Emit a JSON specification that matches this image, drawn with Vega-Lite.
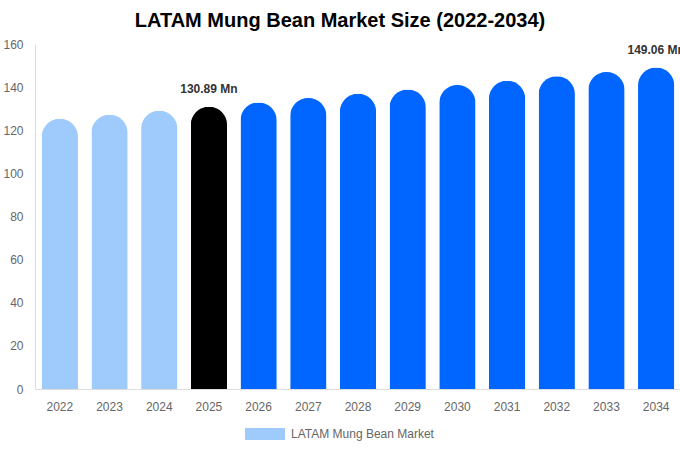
{
  "$schema": "https://vega.github.io/schema/vega-lite/v6.json",
  "width": 646,
  "height": 345,
  "autosize": {"type": "none"},
  "padding": {"left": 35, "top": 44, "right": 0, "bottom": 61},
  "config": {"font": "Liberation Sans", "view": {"stroke": null}},
  "title": {
    "text": "LATAM Mung Bean Market Size (2022-2034)",
    "fontSize": 20,
    "fontWeight": "bold",
    "color": "#000000",
    "anchor": "middle",
    "frame": "group",
    "dx": -18,
    "offset": 7
  },
  "data": {
    "values": [
      {"year": "2022", "value": 125.3, "phase": "Historical"},
      {"year": "2023", "value": 127.2, "phase": "Historical"},
      {"year": "2024", "value": 129.0, "phase": "Historical"},
      {"year": "2025", "value": 130.89, "phase": "Base", "label": "130.89 Mn"},
      {"year": "2026", "value": 132.9, "phase": "Forecast"},
      {"year": "2027", "value": 134.9, "phase": "Forecast"},
      {"year": "2028", "value": 136.9, "phase": "Forecast"},
      {"year": "2029", "value": 138.9, "phase": "Forecast"},
      {"year": "2030", "value": 141.0, "phase": "Forecast"},
      {"year": "2031", "value": 143.0, "phase": "Forecast"},
      {"year": "2032", "value": 145.0, "phase": "Forecast"},
      {"year": "2033", "value": 147.0, "phase": "Forecast"},
      {"year": "2034", "value": 149.06, "phase": "Forecast", "label": "149.06 Mn"}
    ]
  },
  "layer": [
    {
      "mark": {"type": "bar", "cornerRadiusTopLeft": 18, "cornerRadiusTopRight": 18},
      "encoding": {
        "x": {
          "field": "year",
          "type": "ordinal",
          "scale": {"paddingInner": 0.27, "paddingOuter": 0.135},
          "axis": {
            "title": null,
            "labelAngle": 0,
            "ticks": false,
            "domainColor": "#dddddd",
            "labelColor": "#666666",
            "labelFontSize": 12,
            "labelPadding": 12
          }
        },
        "y": {
          "field": "value",
          "type": "quantitative",
          "scale": {"domain": [0, 160], "nice": false},
          "axis": {
            "title": null,
            "grid": false,
            "ticks": false,
            "values": [0, 20, 40, 60, 80, 100, 120, 140, 160],
            "domainColor": "#dddddd",
            "labelColor": "#666666",
            "labelFontSize": 12,
            "labelPadding": 12
          }
        },
        "color": {
          "field": "phase",
          "type": "nominal",
          "scale": {"domain": ["Historical", "Base", "Forecast"], "range": ["#9ecbfb", "#000000", "#0066ff"]},
          "legend": null
        }
      }
    },
    {
      "transform": [{"filter": "isValid(datum.label)"}],
      "mark": {"type": "text", "dy": -11, "fontWeight": "bold", "fontSize": 12, "color": "#333333", "baseline": "bottom"},
      "encoding": {
        "x": {"field": "year", "type": "ordinal"},
        "y": {"field": "value", "type": "quantitative"},
        "text": {"field": "label"}
      }
    },
    {
      "mark": {"type": "point", "filled": true, "opacity": 0},
      "encoding": {
        "x": {"field": "year", "type": "ordinal"},
        "y": {"field": "value", "type": "quantitative"},
        "fill": {
          "datum": "LATAM Mung Bean Market",
          "scale": {"range": ["#9ecbfb"]},
          "legend": {
            "title": null,
            "orient": "none",
            "legendX": 210,
            "legendY": 370,
            "symbolType": "M-1,-0.3L1,-0.3L1,0.3L-1,0.3Z",
            "symbolSize": 1600,
            "symbolOpacity": 1,
            "symbolStrokeWidth": 0,
            "labelColor": "#666666",
            "labelFontSize": 12,
            "labelOffset": 6
          }
        }
      }
    }
  ]
}
